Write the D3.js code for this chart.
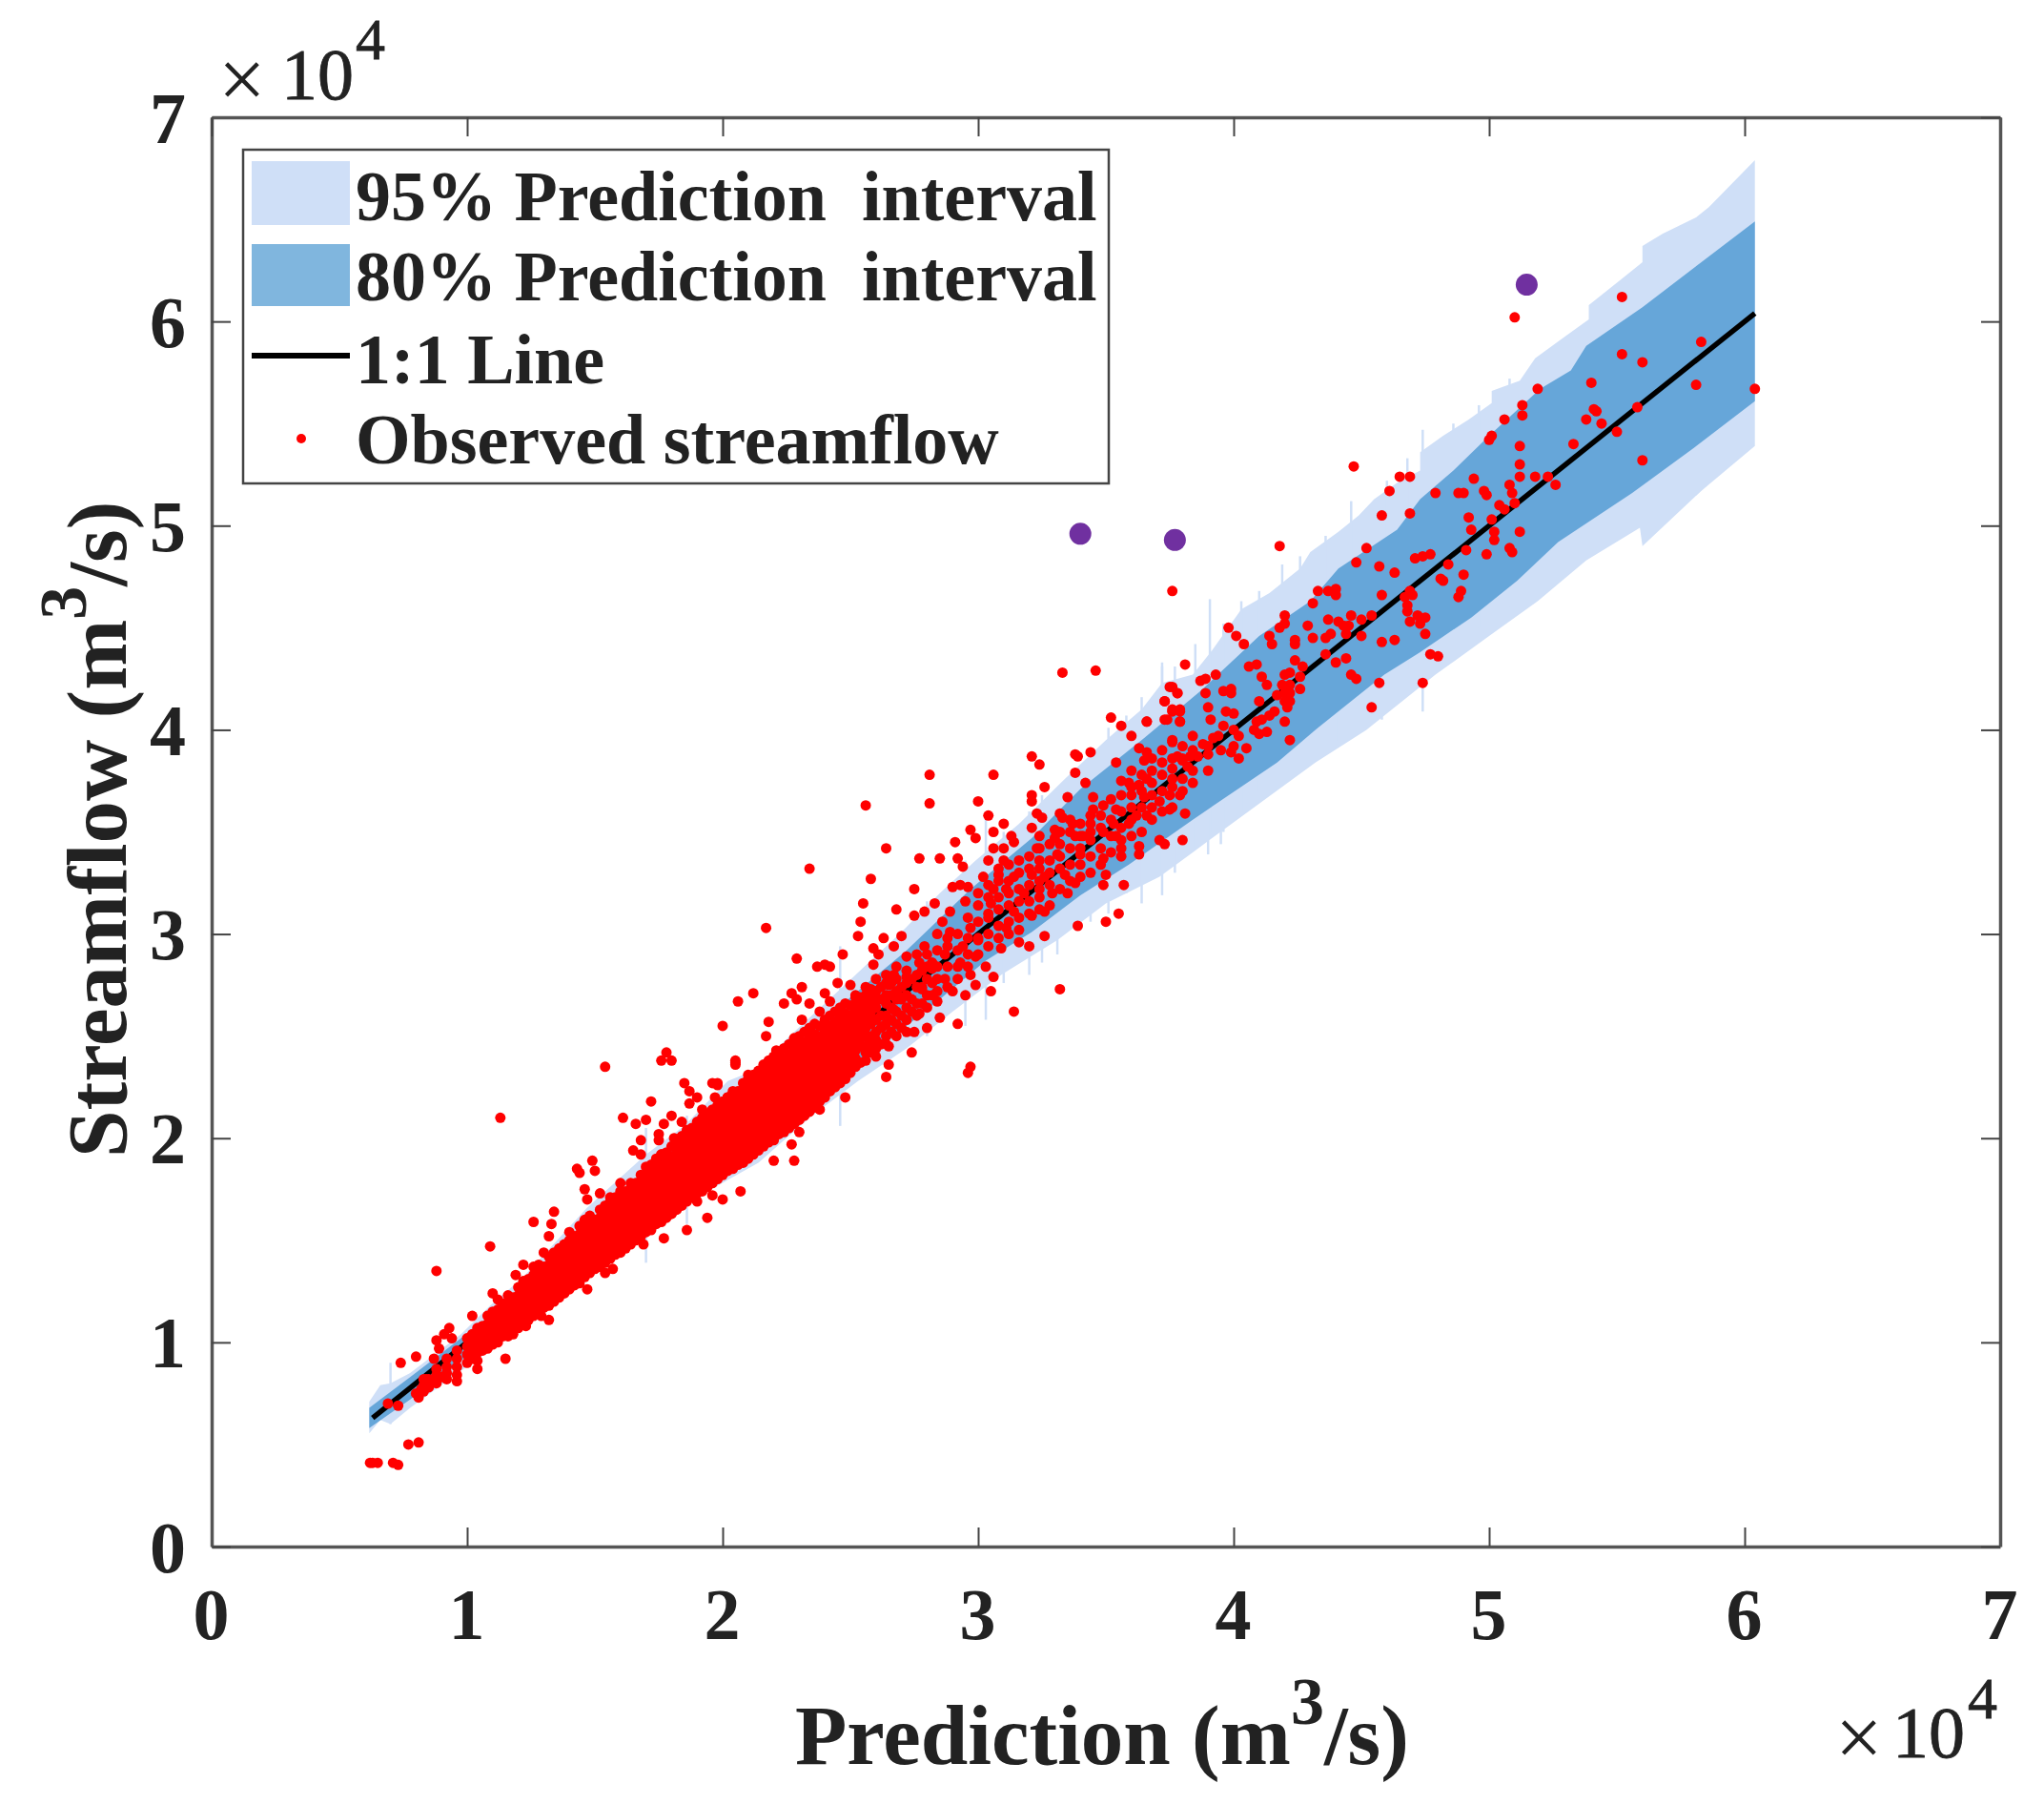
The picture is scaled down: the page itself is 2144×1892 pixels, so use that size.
<!DOCTYPE html>
<html><head><meta charset="utf-8">
<script src="https://cdn.jsdelivr.net/npm/d3@7/dist/d3.min.js"></script>
<style>html,body{margin:0;padding:0;background:#fff}svg{display:block}text{font-family:"Liberation Serif",serif;fill:#222}</style>
</head><body><div id="c"></div>
<script>
const tickValues=[0,1,2,3,4,5,6,7];
const legendLabels=["95% Prediction  interval","80% Prediction  interval","1:1 Line","Observed streamflow"];
const oneToOne=[[0.63,0.63],[6.04,6.04]];
const upper95=[[.617,.71],[.66,.79],[.70,.80],[.777,.85],[.976,1.04],[1.09,1.18],[1.22,1.32],[1.47,1.66],[1.70,1.92],[1.85,2.06],[2.02,2.28],[2.12,2.33],[2.28,2.52],[2.52,2.80],[2.70,3.01],[2.85,3.20],[2.99,3.36],[3.16,3.54],[3.34,3.76],[3.50,3.95],[3.64,4.10],[3.72,4.23],[3.84,4.27],[3.91,4.38],[4.03,4.59],[4.14,4.67],[4.26,4.79],[4.30,4.87],[4.41,4.97],[4.49,5.05],[4.55,5.13],[4.64,5.21],[4.73,5.27],[4.73,5.36],[4.82,5.44],[4.92,5.52],[5.01,5.60],[5.01,5.66],[5.12,5.71],[5.18,5.82],[5.29,5.92],[5.39,6.01],[5.39,6.08],[5.52,6.21],[5.60,6.29],[5.60,6.37],[5.68,6.43],[5.81,6.51],[5.86,6.56],[6.04,6.79]];
const lower95=[[.617,.554],[.66,.62],[.70,.60],[.777,.68],[.976,.86],[1.09,.96],[1.22,1.08],[1.47,1.33],[1.60,1.44],[1.72,1.53],[1.87,1.69],[2.14,1.88],[2.34,2.10],[2.53,2.28],[2.72,2.44],[2.90,2.62],[3.09,2.80],[3.31,2.97],[3.50,3.15],[3.71,3.28],[3.84,3.40],[4.32,3.84],[4.52,4.00],[4.79,4.27],[5.00,4.46],[5.19,4.63],[5.38,4.83],[5.59,4.99],[5.60,4.90],[5.83,5.17],[6.04,5.39]];
const upper80=[[.617,.68],[.777,.83],[1.09,1.13],[1.47,1.58],[1.70,1.85],[2.03,2.19],[2.14,2.30],[2.31,2.48],[2.50,2.69],[2.72,2.92],[2.97,3.22],[3.21,3.47],[3.40,3.71],[3.65,3.96],[3.87,4.19],[4.10,4.46],[4.30,4.63],[4.41,4.79],[4.64,4.98],[4.73,5.13],[4.86,5.27],[5.00,5.44],[5.20,5.67],[5.32,5.76],[5.38,5.88],[5.60,6.07],[6.04,6.49]];
const lower80=[[.617,.58],[.777,.72],[1.09,1.02],[1.47,1.38],[1.70,1.58],[2.00,1.84],[2.47,2.31],[2.65,2.48],[2.84,2.67],[3.03,2.87],[3.21,3.01],[3.40,3.19],[3.59,3.34],[3.84,3.56],[4.17,3.84],[4.32,4.00],[4.59,4.27],[4.73,4.38],[4.93,4.55],[5.11,4.73],[5.27,4.92],[5.56,5.16],[5.80,5.38],[6.04,5.61]];
const spikes95=[[.70,.60,.90],[3.907,3.5,4.64],[4.03,3.6,4.63],[3.72,3.3,4.33],[4.19,3.8,4.81],[4.26,3.9,4.85],[4.74,4.09,5.47],[3.03,2.58,3.56],[3.77,3.3,4.31],[3.64,3.15,4.16],[3.51,3.1,4.01],[2.46,2.06,2.94],[3.72,3.19,4.31],[3.31,2.90,3.70],[1.70,1.39,2.05],[1.86,1.58,2.11],
[4.36,4.1,4.95],[4.46,4.2,5.12],[4.60,4.3,5.22],[4.68,4.3,5.33],[4.86,4.5,5.50],[4.96,4.5,5.59],[5.08,4.6,5.72],[4.10,3.7,4.68],[3.96,3.5,4.52],[3.85,3.42,4.42],[3.58,3.2,4.07],[3.44,3.06,3.90],[3.25,2.86,3.68],[3.20,2.80,3.60],[3.10,2.76,3.50],[2.95,2.55,3.36],[2.80,2.50,3.16],[4.40,3.95,4.6],[4.58,4.05,4.9],[3.90,3.39,4.1],[3.95,3.44,4.2]];
const purplePoints=[[5.147,6.18],[3.77,4.93],[3.40,4.96]];
const observedHigh=[[5.52,6.12],[5.10,6.02],[5.83,5.90],[5.52,5.84],[5.60,5.80],[5.40,5.70],[5.19,5.67],[5.81,5.69],[6.04,5.67],[5.13,5.59],[5.13,5.54],[5.58,5.58],[5.41,5.57],[5.42,5.56],[5.38,5.52],[5.06,5.52],[5.44,5.50],[5.50,5.46],[5.01,5.44],[5.00,5.42],[5.33,5.40],[5.12,5.39],[5.60,5.32],[5.12,5.30],[4.47,5.29],[5.12,5.24],[5.18,5.24],[5.23,5.24],[4.65,5.24],[4.69,5.24],[4.94,5.23],[5.26,5.20],[5.08,5.20],[4.61,5.17],[4.79,5.16],[4.88,5.16],[4.90,5.16],[4.98,5.17],[4.99,5.15],[5.09,5.16],[5.10,5.11],[5.04,5.10],[5.06,5.08],[4.69,5.06],[4.58,5.05],[4.92,5.04],[5.01,5.03],[4.93,4.98],[5.02,4.97],[5.12,4.97],[5.02,4.93],[4.18,4.90],[4.52,4.89],[4.91,4.88],[5.08,4.89],[5.09,4.87],[4.99,4.86],[4.71,4.84],[4.74,4.85],[4.77,4.86],[4.48,4.82],[4.57,4.80],[4.84,4.81],[4.63,4.77],[4.90,4.76],[4.81,4.74],[4.82,4.73],[3.76,4.68],[4.33,4.68],[4.37,4.68],[4.40,4.69],[4.40,4.66],[4.58,4.66],[4.69,4.68],[4.67,4.65],[4.70,4.66],[4.89,4.68],[4.88,4.65],[4.31,4.62],[4.68,4.61],[4.68,4.58],[4.20,4.56],[4.20,4.52],[4.18,4.50],[3.98,4.50],[4.46,4.56],[4.37,4.54],[4.41,4.53],[4.43,4.51],[4.45,4.51],[4.50,4.54],[4.54,4.56],[4.75,4.55],[4.72,4.56],[4.73,4.52],[4.69,4.53],[4.29,4.51],[4.44,4.47],[4.50,4.46],[4.38,4.47],[4.36,4.45],[4.75,4.47],[4.01,4.46],[4.04,4.42],[4.14,4.46],[4.15,4.42],[4.24,4.44],[4.24,4.42],[4.31,4.45],[4.58,4.43],[4.63,4.44],[4.77,4.37],[4.80,4.36],[4.36,4.37],[4.44,4.35],[3.81,4.32],[4.09,4.32],[4.06,4.31],[4.24,4.34],[4.27,4.31],[4.40,4.33],[3.93,4.27],[3.89,4.25],[3.87,4.24],[4.11,4.26],[4.13,4.22],[4.20,4.27],[4.19,4.22],[4.22,4.22],[4.46,4.27],[4.48,4.25],[4.57,4.23],[4.74,4.23],[3.75,4.21],[3.78,4.18],[3.89,4.18],[3.96,4.19],[3.99,4.20],[3.99,4.18],[4.17,4.17],[4.22,4.18],[3.73,4.14],[4.21,4.11],[4.54,4.11],[3.76,4.09],[3.79,4.09],[3.90,4.11],[3.97,4.09],[4.16,4.09],[4.14,4.07],[3.66,4.04],[3.73,4.05],[3.79,4.04],[3.91,4.05],[4.09,4.04],[4.11,4.05],[3.96,4.02],[4.08,4.00],[4.13,3.99],[4.02,3.97],[3.84,3.97],[3.76,3.94],[3.92,3.96],[3.94,3.97],[4.22,3.95],[3.88,3.93],[3.95,3.90],[4.05,3.91],[3.99,3.89],[3.78,3.87],[3.83,3.87],[3.86,3.87],[3.90,3.88],[4.02,3.86]];
const observedMid=[[3.33,4.28],[3.46,4.29],[3.76,4.21],[3.78,4.18],[3.73,4.14],[3.52,4.06],[3.56,4.02],[3.60,3.97],[3.66,4.04],[3.74,4.05],[3.76,4.10],[3.79,4.10],[3.79,4.04],[3.76,3.95],[2.81,3.78],[3.06,3.78],[3.21,3.87],[3.24,3.83],[3.38,3.88],[3.39,3.87],[3.44,3.89],[3.63,3.91],[3.66,3.89],[3.65,3.85],[3.54,3.84],[3.38,3.79],[3.42,3.74],[3.26,3.72],[3.35,3.67],[3.21,3.68],[3.21,3.65],[3.00,3.65],[2.81,3.64],[2.56,3.63],[3.04,3.58],[3.23,3.59],[3.25,3.57],[3.32,3.59],[3.33,3.57],[3.45,3.67],[3.66,3.76],[3.63,3.73],[3.56,3.75],[3.59,3.74],[3.60,3.68],[3.65,3.67],[3.71,3.65],[3.76,3.81],[3.80,3.85],[3.82,3.82],[3.75,3.68],[3.79,3.68],[3.49,3.63],[3.45,3.61],[3.54,3.61],[3.62,3.58],[3.66,3.58],[3.75,3.61],[3.81,3.59],[3.10,3.54],[2.97,3.51],[2.99,3.47],[3.06,3.50],[3.13,3.48],[3.21,3.52],[3.30,3.51],[3.37,3.54],[3.44,3.54],[3.53,3.54],[3.59,3.54],[2.91,3.45],[2.64,3.42],[3.06,3.42],[3.10,3.42],[3.14,3.45],[3.23,3.42],[3.30,3.47],[3.38,3.48],[3.41,3.48],[3.49,3.50],[3.54,3.48],[3.56,3.42],[3.63,3.43],[3.71,3.46],[3.73,3.44],[3.80,3.46],[2.77,3.37],[2.85,3.37],[2.92,3.37],[2.94,3.33],[2.34,3.32],[3.04,3.36],[3.10,3.36],[3.16,3.36],[3.24,3.36],[3.31,3.39],[3.40,3.39],[3.49,3.37],[3.56,3.38],[3.63,3.39],[2.58,3.27],[2.75,3.22],[3.02,3.28],[3.08,3.29],[3.14,3.28],[3.21,3.29],[3.26,3.28],[3.34,3.29],[3.38,3.25],[3.50,3.29],[3.49,3.24],[3.57,3.24],[2.90,3.23],[2.93,3.24],[2.96,3.23],[3.06,3.22],[3.11,3.22],[3.18,3.20],[3.24,3.22],[3.29,3.20],[3.35,3.20],[2.55,3.15],[2.68,3.12],[2.83,3.15],[2.79,3.11],[2.75,3.09],[2.89,3.11],[2.95,3.16],[3.00,3.14],[3.05,3.15],[3.14,3.11],[3.21,3.09],[3.26,3.11],[3.55,3.10],[2.54,3.06],[2.86,3.06],[2.97,3.03],[3.04,3.08],[3.11,3.03],[3.50,3.06],[3.39,3.04],[3.26,2.99],[2.17,3.03],[2.53,2.99],[2.63,2.98],[2.70,2.99],[2.84,3.00],[2.89,3.01],[2.94,2.94],[3.00,2.97],[3.16,2.96],[3.20,2.94],[3.09,2.93],[2.59,2.93],[2.67,2.94],[2.47,2.90],[2.61,2.90],[2.29,2.88],[2.72,2.89],[2.79,2.94],[2.77,2.86],[2.87,2.90],[2.99,2.89],[2.37,2.84],[2.40,2.85],[2.42,2.84],[2.59,2.85],[2.82,2.83],[2.93,2.86],[3.03,2.84],[3.06,2.79],[2.67,2.80],[2.72,2.79],[2.87,2.78],[2.97,2.80],[3.32,2.73],[2.45,2.76],[2.50,2.75],[2.31,2.74],[2.27,2.71],[2.40,2.71],[2.12,2.71],[2.06,2.67],[2.29,2.68],[2.24,2.66],[2.34,2.66],[2.42,2.67],[2.58,2.73],[2.65,2.75],[2.78,2.73],[2.90,2.72],[2.99,2.75],[3.05,2.72],[2.95,2.70],[3.14,2.62],[2.52,2.69],[2.70,2.69],[2.84,2.67],[2.38,2.62],[2.18,2.57],[2.00,2.55],[2.31,2.58],[2.46,2.61],[2.58,2.62],[2.67,2.63],[2.77,2.61],[2.85,2.59],[2.92,2.56],[2.80,2.54],[2.17,2.50],[2.28,2.49],[2.39,2.55],[2.52,2.53],[2.63,2.55],[2.72,2.52],[2.75,2.52],[2.34,2.53],[2.21,2.43],[2.28,2.44],[2.38,2.45],[2.48,2.47],[2.57,2.46],[2.65,2.45],[2.74,2.42],[2.60,2.40],[2.65,2.36],[2.64,2.30],[2.97,2.35],[2.96,2.32],[2.05,2.38],[2.05,2.36],[2.19,2.36],[2.29,2.36],[2.41,2.37],[2.51,2.36],[2.10,2.31],[2.18,2.28],[2.27,2.30],[2.37,2.30],[2.46,2.31],[2.48,2.20],[1.98,2.27],[2.02,2.20],[2.11,2.22],[2.19,2.22],[2.29,2.20],[2.39,2.20],[2.09,2.13],[2.19,2.13],[2.28,2.13],[2.38,2.14],[2.03,2.09],[2.13,2.09],[2.23,2.08]];
const observedLow=[[1.13,2.10],[1.54,2.35],[1.76,2.38],[1.78,2.42],[1.80,2.38],[2.05,2.37],[1.85,2.27],[1.87,2.23],[1.90,2.20],[1.96,2.27],[1.98,2.26],[1.97,2.20],[2.02,2.20],[1.72,2.18],[1.87,2.17],[1.92,2.14],[1.61,2.10],[1.66,2.07],[1.70,2.09],[1.80,2.11],[1.77,2.07],[1.84,2.08],[1.75,2.02],[1.68,1.99],[1.75,1.99],[1.81,2.00],[1.65,1.94],[1.68,1.92],[1.76,1.92],[1.49,1.89],[1.43,1.85],[1.44,1.83],[1.50,1.84],[1.46,1.75],[1.47,1.70],[1.60,1.78],[1.52,1.73],[1.56,1.71],[1.34,1.64],[1.26,1.59],[1.33,1.58],[1.09,1.47],[1.32,1.52],[.88,1.35],[1.30,1.44],[1.22,1.38],[1.26,1.37],[1.19,1.33],[1.10,1.24],[1.12,1.21],[1.02,1.13],[.93,1.07],[.91,1.04],[.94,1.02],[.88,1.01],[.89,.97],[.80,.93],[.87,.92],[.74,.90],[.69,.70],[.73,.69],[.81,.73],[.85,.78],[.83,.82],[.83,.76],[.81,.51],[.77,.50],[.62,.41],[.63,.41],[.65,.41],[.71,.41],[.73,.40],[1.15,.92],[1.47,1.26],[1.77,1.51],[1.86,1.55],[1.94,1.61],[2.07,1.74],[2.20,1.89],[2.28,1.89],[2.27,1.97],[1.69,1.48],[1.54,1.34],[1.57,1.36],[1.32,1.11],[1.29,1.13],[1.23,1.08],[1.18,1.04],[1.96,1.72],[2.00,1.70],[1.80,1.63],[1.90,1.69],[2.30,2.03],[2.20,1.99],[1.04,.87],[.96,.81],[.90,.83],[.83,.79],[.85,.82],[.82,.77],[.80,.75]];
const denseColumns=[
[.84,.78,.82],[.88,.80,.84,.87],[.92,.82,.85,.88,.92],[.96,.84,.88,.92,.96],
[1.00,.90,.94,.98,1.02],[1.04,.91,.95,.99,1.03,1.07],[1.08,.97,1.01,1.05,1.09,1.13],[1.12,1.00,1.04,1.08,1.12,1.16],
[1.16,1.03,1.07,1.11,1.15,1.19,1.23],[1.20,1.07,1.11,1.15,1.19,1.23,1.27],[1.24,1.11,1.15,1.19,1.23,1.27,1.31],
[1.28,1.14,1.18,1.22,1.26,1.30,1.34,1.38],[1.32,1.18,1.22,1.26,1.30,1.34,1.38,1.42],[1.36,1.22,1.26,1.30,1.34,1.38,1.42,1.46],
[1.40,1.26,1.30,1.34,1.38,1.42,1.46,1.50,1.54],[1.44,1.29,1.33,1.37,1.41,1.45,1.49,1.53,1.57],[1.48,1.34,1.38,1.42,1.46,1.50,1.54,1.58,1.62],
[1.52,1.37,1.41,1.45,1.49,1.53,1.57,1.61,1.65],[1.56,1.41,1.45,1.49,1.53,1.57,1.61,1.65,1.69],[1.60,1.44,1.48,1.52,1.56,1.60,1.64,1.68,1.71,1.74],
[1.64,1.48,1.52,1.56,1.60,1.64,1.68,1.72,1.75,1.78],[1.68,1.52,1.56,1.60,1.64,1.68,1.72,1.76,1.79,1.82],[1.72,1.55,1.59,1.63,1.67,1.71,1.75,1.79,1.83,1.87],
[1.76,1.59,1.63,1.67,1.71,1.75,1.79,1.83,1.87,1.92],[1.80,1.63,1.67,1.71,1.75,1.79,1.83,1.87,1.91,1.96],[1.84,1.67,1.71,1.75,1.79,1.83,1.87,1.91,1.95,1.98,2.01],
[1.88,1.71,1.75,1.79,1.83,1.87,1.91,1.95,1.99,2.02,2.05],[1.92,1.74,1.78,1.82,1.86,1.90,1.94,1.98,2.02,2.06,2.10],[1.96,1.78,1.82,1.86,1.90,1.94,1.98,2.02,2.06,2.10,2.14],
[2.00,1.82,1.86,1.90,1.94,1.98,2.02,2.06,2.10,2.14,2.18],[2.04,1.85,1.89,1.93,1.97,2.01,2.05,2.09,2.13,2.17,2.20,2.23],[2.08,1.88,1.92,1.96,2.00,2.04,2.08,2.12,2.16,2.20,2.24,2.27],
[2.12,1.92,1.96,2.00,2.04,2.08,2.12,2.16,2.20,2.24,2.28,2.31],[2.16,1.96,2.00,2.04,2.08,2.12,2.16,2.20,2.24,2.28,2.32,2.36],[2.20,2.00,2.04,2.08,2.12,2.16,2.20,2.24,2.28,2.32,2.36,2.40],
[2.24,2.03,2.07,2.11,2.15,2.19,2.23,2.27,2.31,2.35,2.39,2.44],[2.28,2.07,2.11,2.15,2.19,2.23,2.27,2.31,2.35,2.39,2.43,2.48],[2.32,2.11,2.15,2.19,2.23,2.27,2.31,2.35,2.39,2.43,2.47,2.52],
[2.36,2.15,2.19,2.23,2.27,2.31,2.35,2.39,2.43,2.47,2.51,2.56],[2.40,2.20,2.24,2.28,2.32,2.36,2.40,2.44,2.48,2.52,2.58],[2.44,2.25,2.29,2.33,2.37,2.41,2.45,2.49,2.53,2.57,2.62],
[2.48,2.29,2.33,2.37,2.41,2.45,2.49,2.53,2.57,2.61,2.66],[2.52,2.35,2.39,2.43,2.47,2.51,2.55,2.59,2.63,2.66,2.70],[2.56,2.38,2.42,2.50,2.54,2.58,2.62,2.66,2.70,2.74],
[2.60,2.44,2.48,2.52,2.58,2.64,2.68,2.72,2.78],[2.64,2.46,2.50,2.56,2.60,2.66,2.70,2.76,2.80],[2.68,2.50,2.56,2.62,2.68,2.72,2.78,2.84],
[2.72,2.58,2.64,2.70,2.76,2.82],[2.76,2.60,2.66,2.74,2.80,2.90],[2.80,2.64,2.70,2.78,2.84,2.90],[2.84,2.72,2.78,2.84,2.92],[2.88,2.74,2.84,2.94,2.98]];
const denseColumnsOffset=[
[1.02,.92,.96,1.00,1.04],[1.06,.96,1.00,1.04,1.08],[1.10,.99,1.03,1.07,1.11,1.15],[1.14,1.03,1.07,1.11,1.15,1.19],[1.18,1.06,1.10,1.14,1.18,1.22],[1.22,1.10,1.14,1.18,1.22,1.26,1.30],[1.26,1.13,1.17,1.21,1.25,1.29,1.33],[1.30,1.17,1.21,1.25,1.29,1.33,1.37],[1.34,1.20,1.24,1.28,1.32,1.36,1.40,1.44],[1.38,1.24,1.28,1.32,1.36,1.40,1.44,1.48],[1.42,1.28,1.32,1.36,1.40,1.44,1.48,1.52],[1.46,1.32,1.36,1.40,1.44,1.48,1.52,1.56,1.60],[1.50,1.36,1.40,1.44,1.48,1.52,1.56,1.60],[1.54,1.39,1.43,1.47,1.51,1.55,1.59,1.63,1.67],[1.58,1.43,1.47,1.51,1.55,1.59,1.63,1.67,1.71],[1.62,1.46,1.50,1.54,1.58,1.62,1.66,1.70,1.74],[1.66,1.50,1.54,1.58,1.62,1.66,1.70,1.74,1.78],[1.70,1.54,1.58,1.62,1.66,1.70,1.74,1.78,1.82,1.86],[1.74,1.58,1.62,1.66,1.70,1.74,1.78,1.82,1.86,1.90],[1.78,1.61,1.65,1.69,1.73,1.77,1.81,1.85,1.89,1.93],[1.82,1.65,1.69,1.73,1.77,1.81,1.85,1.89,1.93,1.97],[1.86,1.69,1.73,1.77,1.81,1.85,1.89,1.93,1.97,2.01,2.04],[1.90,1.73,1.77,1.81,1.85,1.89,1.93,1.97,2.01,2.05,2.08],[1.94,1.76,1.80,1.84,1.88,1.92,1.96,2.00,2.04,2.08,2.12],[1.98,1.80,1.84,1.88,1.92,1.96,2.00,2.04,2.08,2.12,2.16],[2.02,1.84,1.88,1.92,1.96,2.00,2.04,2.08,2.12,2.16,2.20],[2.06,1.87,1.91,1.95,1.99,2.03,2.07,2.11,2.15,2.19,2.23],[2.10,1.90,1.94,1.98,2.02,2.06,2.10,2.14,2.18,2.22,2.26,2.29],[2.14,1.94,1.98,2.02,2.06,2.10,2.14,2.18,2.22,2.26,2.30,2.33],[2.18,1.98,2.02,2.06,2.10,2.14,2.18,2.22,2.26,2.30,2.34,2.38],[2.22,2.02,2.06,2.10,2.14,2.18,2.22,2.26,2.30,2.34,2.38,2.42],[2.26,2.05,2.09,2.13,2.17,2.21,2.25,2.29,2.33,2.37,2.41,2.46],[2.30,2.09,2.13,2.17,2.21,2.25,2.29,2.33,2.37,2.41,2.45,2.50],[2.34,2.13,2.17,2.21,2.25,2.29,2.33,2.37,2.41,2.45,2.49,2.54],[2.38,2.18,2.22,2.26,2.30,2.34,2.38,2.42,2.46,2.50,2.55],[2.42,2.23,2.27,2.31,2.35,2.39,2.43,2.47,2.51,2.55,2.60],[2.46,2.27,2.31,2.35,2.39,2.43,2.47,2.51,2.55,2.59,2.64],[2.50,2.32,2.36,2.40,2.44,2.48,2.52,2.56,2.60,2.65],[2.54,2.37,2.45,2.49,2.53,2.57,2.61,2.65,2.69],[2.58,2.42,2.50,2.56,2.60,2.66,2.70],[2.62,2.46,2.54,2.60,2.68,2.74],[2.66,2.52,2.58,2.64,2.70,2.76],[2.70,2.54,2.60,2.68,2.74],[2.74,2.62,2.68,2.78],[2.78,2.66,2.74,2.82],[2.82,2.70,2.76,2.86]];
const clusterColumns=[
[2.92,2.78,2.84,2.92,3.00],[2.96,2.84,2.90,2.98,3.08],[3.00,2.90,2.98,3.06,3.20],[3.04,2.94,3.00,3.10,3.18,3.24],
[3.08,2.98,3.04,3.12,3.18,3.26,3.32],[3.12,3.00,3.06,3.14,3.20,3.26,3.34],[3.16,3.02,3.08,3.16,3.22,3.30],[3.20,3.10,3.16,3.24,3.32,3.38],
[3.24,3.12,3.18,3.26,3.32,3.42,3.48],[3.28,3.14,3.24,3.30,3.36,3.44],[3.32,3.22,3.32,3.38,3.44,3.50],[3.36,3.26,3.34,3.42,3.50,3.56],
[3.40,3.28,3.34,3.42,3.48,3.54],[3.44,3.30,3.38,3.46,3.50,3.58],[3.48,3.34,3.42,3.52,3.58],[3.52,3.40,3.48,3.56,3.66],
[3.56,3.46,3.52,3.60,3.68],[3.60,3.48,3.56,3.62,3.72,3.80],[3.64,3.50,3.62,3.70,3.78],[3.68,3.56,3.62,3.68,3.74,3.80,3.86],
[3.72,3.60,3.70,3.78,3.84,3.90],[3.76,3.62,3.72,3.76,3.86],[3.80,3.70,3.76,3.86,3.92],[3.84,3.74,3.80,3.90],
[3.90,3.80,3.92],[4.00,3.92,4.00,4.08],[4.10,3.98,4.14],[4.20,4.04,4.14,4.18],[4.22,4.14,4.28],[4.26,4.20,4.26]];

const W=2144,H=1892,L=222,R=2098,T=123,B=1622;
const svg=d3.select("#c").append("svg").attr("width",W).attr("height",H).attr("viewBox",`0 0 ${W} ${H}`);
const x=d3.scaleLinear().domain([0,7]).range([L,R]);
const y=d3.scaleLinear().domain([0,7]).range([B,T]);
const C95="#cfdff7",C80="#66a6d9",C80L="#80b6de",RED="#ff0000",PURPLE="#7030a0";

function band(up,lo,fill){
  const pts=up.map(d=>[x(d[0]),y(d[1])]).concat(lo.slice().reverse().map(d=>[x(d[0]),y(d[1])]));
  svg.append("path").attr("d",d3.line()(pts)+"Z").attr("fill",fill);
}
band(upper95,lower95,C95);
svg.append("g").selectAll("line").data(spikes95).join("line")
  .attr("x1",d=>x(d[0])).attr("x2",d=>x(d[0])).attr("y1",d=>y(d[1])).attr("y2",d=>y(d[2]))
  .attr("stroke",C95).attr("stroke-width",2.5);
band(upper80,lower80,C80);
svg.append("path").attr("d",d3.line().x(d=>x(d[0])).y(d=>y(d[1]))(oneToOne)).attr("stroke","#000").attr("stroke-width",5.5).attr("fill","none");

const unpack=cols=>cols.flatMap(c=>c.slice(1).map(v=>[c[0],v]));
const all=[...unpack(denseColumns),...unpack(denseColumnsOffset),...unpack(clusterColumns),...observedLow,...observedMid,...observedHigh];
svg.append("g").selectAll("circle").data(all).join("circle")
  .attr("cx",d=>x(d[0])).attr("cy",d=>y(d[1])).attr("r",5.5).attr("fill",RED);
svg.append("g").selectAll("circle").data(purplePoints).join("circle")
  .attr("cx",d=>x(d[0])).attr("cy",d=>y(d[1])).attr("r",11.5).attr("fill",PURPLE);

// axes
function styleAxis(g){
  g.selectAll(".domain").attr("stroke","#555").attr("stroke-width",3.5);
  g.selectAll(".tick line").attr("stroke","#444").attr("stroke-width",2);
}
const fmt=d=>String(d);
const gB=svg.append("g").attr("transform",`translate(0,${B})`).call(d3.axisBottom(x).tickValues(tickValues).tickFormat(fmt).tickSizeInner(-20).tickSizeOuter(0));
gB.selectAll("text").attr("y",97).attr("dy",0).attr("dx",-1).style("font-size","76px").style("font-weight","bold").style("font-family",'"Liberation Serif",serif').attr("fill","#222");
styleAxis(gB);
const gL=svg.append("g").attr("transform",`translate(${L},0)`).call(d3.axisLeft(y).tickValues(tickValues).tickFormat(fmt).tickSizeInner(-20).tickSizeOuter(0));
gL.selectAll("text").attr("x",-27).attr("dy",26).style("font-size","76px").style("font-weight","bold").style("font-family",'"Liberation Serif",serif').attr("fill","#222");
styleAxis(gL);
const gT=svg.append("g").attr("transform",`translate(0,${T})`).call(d3.axisTop(x).tickValues(tickValues).tickFormat("").tickSizeInner(-20).tickSizeOuter(0));
styleAxis(gT);
const gR=svg.append("g").attr("transform",`translate(${R},0)`).call(d3.axisRight(y).tickValues(tickValues).tickFormat("").tickSizeInner(-20).tickSizeOuter(0));
styleAxis(gR);

// multipliers
function mult(xTimes,x10,base,x4,base4){
  svg.append("text").attr("x",xTimes).attr("y",base+9).style("font-size","88px").text("×");
  svg.append("text").attr("x",x10).attr("y",base).style("font-size","76px").style("stroke","#222").style("stroke-width","0.8px").text("10");
  svg.append("text").attr("x",x4).attr("y",base4).style("font-size","62px").style("stroke","#222").style("stroke-width","0.8px").text("4");
}
mult(229,295,104,373,62);
mult(1925,1985,1843,2064,1802);

// axis titles
function title(g,a,sup,c,size,supSize,rise){
  const t=g.append("text").style("font-size",size+"px").style("font-weight","bold").style("white-space","pre");
  t.append("tspan").text(a);
  t.append("tspan").attr("dy",-rise).style("font-size",supSize+"px").text(sup);
  t.append("tspan").attr("dy",rise).text(c);
}
title(svg.append("g").attr("transform","translate(834,1850)"),"Prediction (m","3","/s)",89,70,42);
title(svg.append("g").attr("transform","translate(132,1214) rotate(-90)"),"Streamflow (m","3","/s)",89,70,42);

// legend
const lg=svg.append("g");
lg.append("rect").attr("x",255).attr("y",157).attr("width",908).attr("height",350).attr("fill","#fff").attr("stroke","#444").attr("stroke-width",2.5);
lg.append("rect").attr("x",264).attr("y",169).attr("width",103).attr("height",67).attr("fill",C95);
lg.append("rect").attr("x",264).attr("y",256).attr("width",103).attr("height",65).attr("fill",C80L);
lg.append("line").attr("x1",264).attr("x2",367).attr("y1",373).attr("y2",373).attr("stroke","#000").attr("stroke-width",6);
lg.append("circle").attr("cx",316).attr("cy",460).attr("r",5).attr("fill",RED);
const baselines=[231,315,402,486];
lg.selectAll("text.l").data(legendLabels).join("text").attr("class","l")
  .attr("x",373).attr("y",(d,i)=>baselines[i]).style("font-size","74px").style("font-weight","bold").style("white-space","pre").attr("fill","#000").text(d=>d);
</script></body></html>
